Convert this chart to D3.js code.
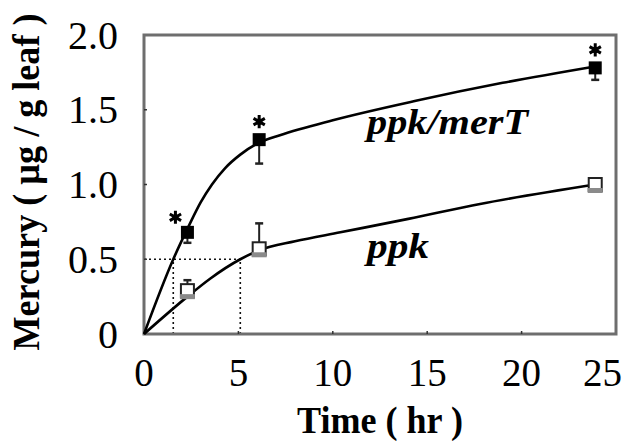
<!DOCTYPE html>
<html>
<head>
<meta charset="utf-8">
<script src="https://cdn.jsdelivr.net/npm/d3@7"></script>
<style>
  body { margin: 0; background: #fff; }
  svg text { font-family: "Liberation Serif", "DejaVu Serif", "Noto Serif", "FreeSerif", Tinos, "Times New Roman", Times, serif; }
</style>
</head>
<body>
<svg id="chart" width="627" height="441"></svg>
<script>
// data
var times_merT = [2.3, 6.1, 23.9]
var values_merT = [0.68, 1.30, 1.78]
var err_merT = [0.07, 0.16, 0.08]   // drawn below the mark
var times_ppk = [2.3, 6.1, 23.9]
var values_ppk = [0.29, 0.57, 1.00]
var err_ppk = [0.07, 0.17, 0]       // drawn above the mark

// fitted curves, points
var fit_merT_t = [0, 1.55, 2.4, 3.0, 3.6, 4.3, 5.1, 6.1, 7.2, 10, 14.4, 19, 23.9]
var fit_merT_v = [0, 0.50, 0.73, 0.88, 1.00, 1.11, 1.20, 1.28, 1.33, 1.43, 1.56, 1.68, 1.79]
var fit_ppk_t = [0, 2.3, 3.5, 5.1, 6.1, 8, 10.4, 14, 17.8, 23.9]
var fit_ppk_v = [0, 0.25, 0.37, 0.50, 0.56, 0.62, 0.68, 0.77, 0.87, 1.00]

var half_level = 0.5
var half_times = [1.55, 5.1]
var x_ticks = [0, 5, 10, 15, 20, 25]
var y_ticks = [0, 0.5, 1.0, 1.5, 2.0]
var y_tick_labels = ["0", "0.5", "1.0", "1.5", "2.0"]

var svg = d3.select("#chart")
var plot_left = 144, plot_right = 616, plot_top = 35, plot_bottom = 334

var x = d3.scaleLinear().domain([0, 25]).range([plot_left, plot_right])
var y = d3.scaleLinear().domain([0, 2]).range([plot_bottom, plot_top])

// dotted helper lines
var dots = svg.append("g")
  .attr("stroke", "#111")
  .attr("stroke-width", 1.6)
  .attr("stroke-dasharray", "2,3")
dots.append("line")
  .attr("x1", x(0)).attr("x2", x(d3.max(half_times)))
  .attr("y1", y(half_level)).attr("y2", y(half_level))
dots.selectAll("line.v").data(half_times).enter().append("line")
  .attr("class", "v")
  .attr("x1", d => x(d)).attr("x2", d => x(d))
  .attr("y1", y(0)).attr("y2", y(half_level))

// frame
svg.append("rect")
  .attr("x", plot_left).attr("y", plot_top)
  .attr("width", plot_right - plot_left).attr("height", plot_bottom - plot_top)
  .attr("fill", "none").attr("stroke", "#6e6e6e").attr("stroke-width", 3)

// small inner tick marks
svg.selectAll("line.yt").data(y_ticks.slice(1, -1)).enter().append("line")
  .attr("x1", plot_left).attr("x2", plot_left + 3)
  .attr("y1", d => y(d)).attr("y2", d => y(d))
  .attr("stroke", "#333").attr("stroke-width", 1.5)
svg.selectAll("line.xt").data(x_ticks.slice(1, -1)).enter().append("line")
  .attr("x1", d => x(d)).attr("x2", d => x(d))
  .attr("y1", plot_bottom).attr("y2", plot_bottom - 3)
  .attr("stroke", "#333").attr("stroke-width", 1.5)

// tick labels
svg.selectAll("text.yl").data(y_ticks).enter().append("text")
  .attr("x", 118).attr("y", d => y(d))
  .attr("dy", "0.34em")
  .attr("text-anchor", "end")
  .attr("font-size", 40)
  .text((d, i) => y_tick_labels[i])
var last_tick = d3.max(x_ticks)
svg.selectAll("text.xl").data(x_ticks).enter().append("text")
  .attr("x", d => d == last_tick ? 622 : x(d)).attr("y", 386)
  .attr("text-anchor", d => d == last_tick ? "end" : "middle")
  .attr("font-size", 39)
  .text(d => d)

// axis titles
svg.append("text")
  .attr("transform", "translate(39,182) rotate(-90)")
  .attr("text-anchor", "middle")
  .attr("font-size", 37).attr("font-weight", "bold")
  .attr("textLength", 337).attr("lengthAdjust", "spacingAndGlyphs")
  .text("Mercury ( \u00b5g / g leaf )")
svg.append("text")
  .attr("x", 380).attr("y", 433)
  .attr("text-anchor", "middle")
  .attr("font-size", 37).attr("font-weight", "bold")
  .attr("textLength", 166).attr("lengthAdjust", "spacingAndGlyphs")
  .text("Time ( hr )")

// fitted curves
var line = d3.line().x(d => x(d[0])).y(d => y(d[1])).curve(d3.curveMonotoneX)
svg.append("path").attr("d", line(d3.zip(fit_merT_t, fit_merT_v)))
  .attr("fill", "none").attr("stroke", "#000").attr("stroke-width", 2.6)
svg.append("path").attr("d", line(d3.zip(fit_ppk_t, fit_ppk_v)))
  .attr("fill", "none").attr("stroke", "#000").attr("stroke-width", 2.6)

// error bars
function error_bars(times, values, errs, dir) {
  var g = svg.append("g").attr("stroke", "#222").attr("stroke-width", 2)
  times.forEach(function (t, i) {
    if (errs[i] <= 0) return
    var y_end = y(values[i] + dir * errs[i])
    g.append("line").attr("x1", x(t)).attr("x2", x(t))
      .attr("y1", y(values[i])).attr("y2", y_end)
    g.append("line").attr("x1", x(t) - 4).attr("x2", x(t) + 4)
      .attr("y1", y_end).attr("y2", y_end).attr("stroke-width", 2.5)
  })
}
error_bars(times_merT, values_merT, err_merT, -1)
error_bars(times_ppk, values_ppk, err_ppk, 1)

// markers
var sq = 13
times_ppk.forEach(function (t, i) {
  var cx = x(t), cy = y(values_ppk[i])
  svg.append("rect")
    .attr("x", cx - sq / 2).attr("y", cy - sq / 2)
    .attr("width", sq).attr("height", sq)
    .attr("fill", "#fff").attr("stroke", "#222").attr("stroke-width", 2)
  svg.append("rect")
    .attr("x", cx - sq / 2 - 1).attr("y", cy + sq / 2 - 3)
    .attr("width", sq + 2).attr("height", 5)
    .attr("fill", "#8a8a8a")
})
svg.selectAll("rect.m").data(times_merT).enter().append("rect")
  .attr("class", "m")
  .attr("x", d => x(d) - sq / 2)
  .attr("y", (d, i) => y(values_merT[i]) - sq / 2)
  .attr("width", sq).attr("height", sq)
  .attr("fill", "#000")

// significance stars
var star_pos = (d, i) => "translate(" + (x(d) - (i == 0 ? 12 : 0)) + "," + (y(values_merT[i]) - (i == 0 ? 15 : 18)) + ")"
svg.selectAll("path.star").data(times_merT).enter().append("path")
  .attr("class", "star")
  .attr("d", d3.symbol().type(d3.symbolAsterisk).size(120))
  .attr("transform", star_pos)
  .attr("fill", "none").attr("stroke", "#000").attr("stroke-width", 3)
svg.selectAll("path.star2").data(times_merT).enter().append("path")
  .attr("class", "star2")
  .attr("d", d3.symbol().type(d3.symbolCircle).size(30))
  .attr("transform", star_pos)
  .attr("fill", "#000")

// series labels
svg.append("text")
  .attr("x", 367).attr("y", 134)
  .attr("font-size", 35).attr("font-weight", "bold").attr("font-style", "italic")
  .attr("textLength", 161).attr("lengthAdjust", "spacingAndGlyphs")
  .text("ppk/merT")
svg.append("text")
  .attr("x", 367).attr("y", 258)
  .attr("font-size", 35).attr("font-weight", "bold").attr("font-style", "italic")
  .attr("textLength", 62).attr("lengthAdjust", "spacingAndGlyphs")
  .text("ppk")
</script>
</body>
</html>
